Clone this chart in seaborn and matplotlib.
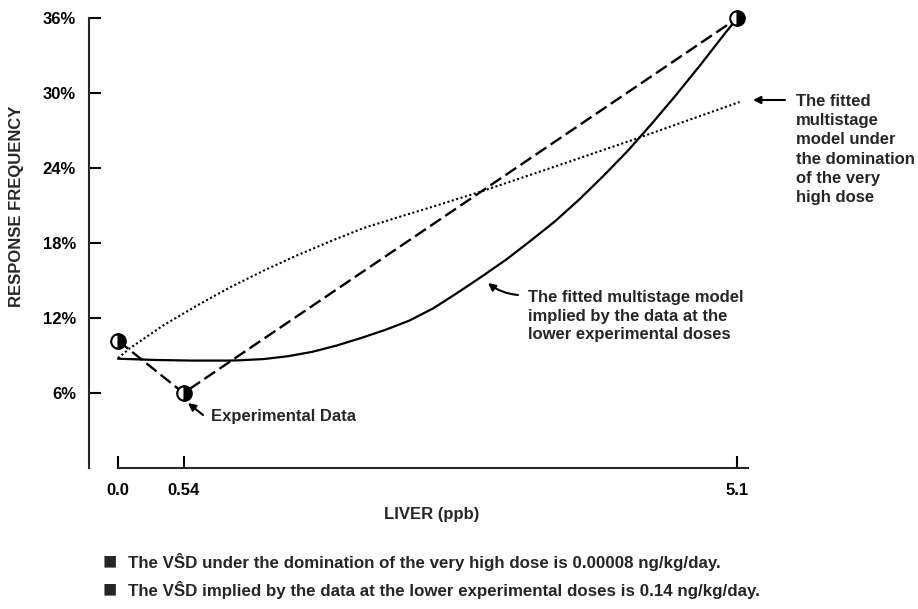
import matplotlib
matplotlib.use("Agg")
import matplotlib.pyplot as plt
import seaborn as sns
import pandas as pd

# ---- data ----
dose_obs = [0.0, 0.54, 5.1]
resp_obs = [10.2, 6.0, 36.0]

low_dose_x = [0.0, 0.3, 0.6, 0.9, 1.0, 1.2, 1.4, 1.6, 1.8, 2.0, 2.2, 2.4, 2.6, 2.8,
              3.0, 3.2, 3.4, 3.6, 3.8, 4.0, 4.2, 4.4, 4.6, 4.8, 5.0, 5.1]
low_dose_y = [8.75, 8.65, 8.6, 8.6, 8.62, 8.72, 8.95, 9.3, 9.8, 10.4, 11.05, 11.8, 12.8, 14.05,
              15.35, 16.7, 18.2, 19.75, 21.5, 23.4, 25.4, 27.6, 29.9, 32.3, 34.8, 36.0]

high_dose_x = [0.0, 0.1, 0.37, 0.65, 0.92, 1.2, 1.47, 1.75, 2.02, 2.3, 2.57, 2.98, 3.59, 4.28, 5.12]
high_dose_y = [8.8, 9.6, 11.4, 13.0, 14.45, 15.8, 17.0, 18.15, 19.2, 20.05, 20.85, 22.1, 24.1, 26.4, 29.3]

x_ticks = [0.0, 0.54, 5.1]
x_tick_labels = ["0.0", "0.54", "5.1"]
y_ticks = [6, 12, 18, 24, 30, 36]
y_tick_labels = ["6%", "12%", "18%", "24%", "30%", "36%"]

# ---- style ----
sns.set_style("ticks")
FONT = ["Liberation Sans", "DejaVu Sans"]
plt.rcParams["font.family"] = FONT
plt.rcParams["font.weight"] = "bold"

W, H = 918, 609
fig = plt.figure(figsize=(W / 100, H / 100), dpi=100)
ax = fig.add_axes([89 / W, 141 / H, (748 - 89) / W, (468 - 18.3) / H])

obs = pd.DataFrame({"dose": dose_obs, "resp": resp_obs})
low = pd.DataFrame({"dose": low_dose_x, "resp": low_dose_y})
high = pd.DataFrame({"dose": high_dose_x, "resp": high_dose_y})

sns.lineplot(data=low, x="dose", y="resp", ax=ax, color="black", lw=1.6,
             sort=False, clip_on=False, zorder=3)
sns.lineplot(data=high, x="dose", y="resp", ax=ax, color="black", lw=1.5,
             linestyle=(0, (1.0, 1.2)), sort=False, clip_on=False, zorder=3)
sns.lineplot(data=obs, x="dose", y="resp", ax=ax, color="black", lw=1.7,
             linestyle=(0, (5.5, 2.2)), sort=False, clip_on=False, zorder=3)
ax.plot(obs["dose"], obs["resp"], linestyle="none", marker="o", markersize=10.5,
        fillstyle="right", markerfacecolor="black", markerfacecoloralt="white",
        markeredgecolor="black", markeredgewidth=1.5, clip_on=False, zorder=5)

ax.set_xlim(-(118 - 89) / 121.4, (748 - 118) / 121.4)
ax.set_ylim(0, 36)
ax.set_xticks(x_ticks)
ax.set_xticklabels(x_tick_labels)
ax.set_yticks(y_ticks)
ax.set_yticklabels(y_tick_labels)
ax.set_xlabel("")
ax.set_ylabel("")

for s in ["top", "right"]:
    ax.spines[s].set_visible(False)
ax.spines["left"].set_linewidth(1.5)
ax.spines["bottom"].set_linewidth(1.5)
ax.spines["bottom"].set_bounds(0, (748 - 118) / 121.4)

ax.tick_params(axis="both", direction="in", length=8.5, width=1.5, colors="black")
ax.tick_params(axis="y", pad=9.4, labelsize=12)
ax.tick_params(axis="x", pad=11, labelsize=12)
for lab in ax.get_xticklabels() + ax.get_yticklabels():
    lab.set_fontweight("bold")


def fp(x, y):
    return (x, H - y)


fig.text(17 / W, 1 - 206 / H, "RESPONSE FREQUENCY", rotation=90, ha="center",
         va="center", fontsize=12, fontweight="bold")
fig.text(432 / W, 1 - 515 / H, "LIVER (ppb)", ha="center", va="center",
         fontsize=12, fontweight="bold")

arrow = dict(arrowstyle="-|>", lw=1.5, color="black", mutation_scale=11,
             shrinkA=0, shrinkB=0)

# Experimental data annotation
ax.annotate("", xy=fp(188, 403), xytext=fp(203, 415), xycoords="figure pixels",
            textcoords="figure pixels", arrowprops=arrow)
fig.text(211 / W, 1 - 417 / H, "Experimental Data", ha="left", va="center",
         fontsize=12, fontweight="bold")

# Solid curve annotation
ax.annotate("", xy=fp(488, 283), xytext=fp(518, 295), xycoords="figure pixels",
            textcoords="figure pixels",
            arrowprops=dict(arrow, connectionstyle="arc3,rad=-0.15"))
fig.text(528 / W, 1 - 316 / H,
         "The fitted multistage model\nimplied by the data at the\nlower experimental doses",
         ha="left", va="center", fontsize=12, fontweight="bold", linespacing=1.32)

# Dotted curve annotation
ax.annotate("", xy=fp(753, 100), xytext=fp(785, 100), xycoords="figure pixels",
            textcoords="figure pixels", arrowprops=arrow)
fig.text(796 / W, 1 - 149.5 / H,
         "The fitted\nmultistage\nmodel under\nthe domination\nof the very\nhigh dose",
         ha="left", va="center", fontsize=12, fontweight="bold", linespacing=1.35)

# Bottom notes
notes = [
    ("The V\u015cD under the domination of the very high dose is 0.00008 ng/kg/day.", 562),
    ("The V\u015cD implied by the data at the lower experimental doses is 0.14 ng/kg/day.", 590),
]
for txt, yy in notes:
    fig.text(103 / W, 1 - yy / H, "\u25a0", ha="left", va="center", fontsize=17,
             family=FONT)
    fig.text(128 / W, 1 - yy / H, txt, ha="left", va="center", fontsize=12.2,
             fontweight="bold")

fig.savefig("out.png", dpi=100)
